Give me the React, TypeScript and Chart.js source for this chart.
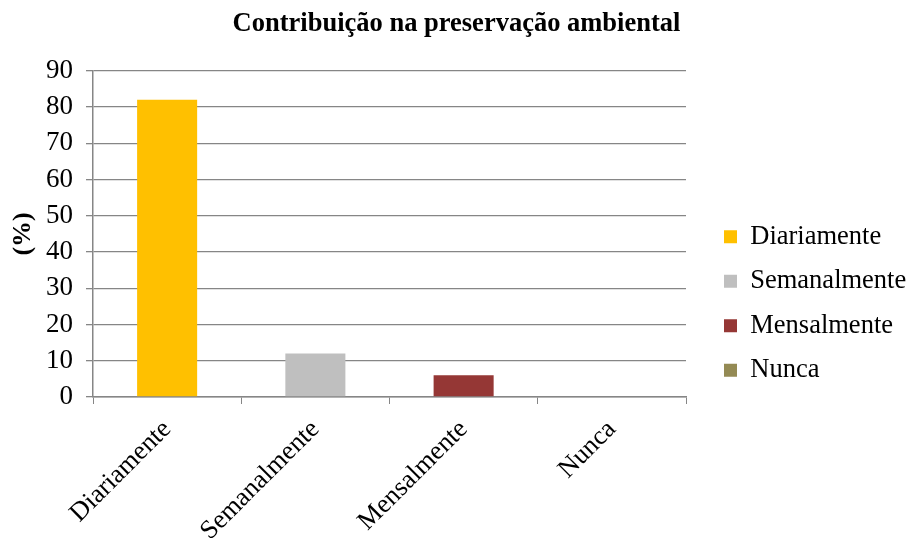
import React, { useEffect, useRef } from "react";
import { Chart, registerables } from "chart.js";

Chart.register(...registerables);

const categories = ["Diariamente", "Semanalmente", "Mensalmente", "Nunca"];
const values = [82, 12, 6, 0];
const colors = ["#FFC000", "#BFBFBF", "#953735", "#948A54"];
const yTicks = [0, 10, 20, 30, 40, 50, 60, 70, 80, 90];

const FONT = "'Liberation Serif', 'Times New Roman', serif";

export default function App() {
  const ref = useRef<HTMLCanvasElement | null>(null);

  useEffect(() => {
    document.body.style.margin = "0";
    const canvas = ref.current;
    if (!canvas) return;
    const chart = new Chart(canvas, {
      type: "bar",
      data: {
        labels: categories,
        datasets: [
          {
            data: values,
            backgroundColor: colors,
            borderWidth: 0,
            categoryPercentage: 1,
            barPercentage: 0.405,
          },
        ],
      },
      options: {
        animation: false,
        responsive: false,
        layout: { padding: { left: 4, right: 0, top: 0, bottom: 0 } },
        plugins: {
          title: {
            display: true,
            text: "Contribuição na preservação ambiental",
            color: "#000",
            font: { family: FONT, size: 26.5, weight: "bold" },
            padding: { top: 8, bottom: 31 },
          },
          legend: {
            position: "right",
            maxWidth: 203,
            title: {
              display: true,
              text: " ",
              font: { family: FONT, size: 10 },
              padding: { top: 57, bottom: 0 },
            },
            labels: {
              color: "#000",
              font: { family: FONT, size: 26.5 },
              boxWidth: 13,
              boxHeight: 13,
              padding: 18,
              generateLabels: () =>
                categories.map((c, i) => ({
                  text: c,
                  fillStyle: colors[i],
                  strokeStyle: colors[i],
                  lineWidth: 0,
                  hidden: false,
                  index: i,
                  fontColor: "#000",
                })),
            },
            onClick: () => {},
          },
          tooltip: { enabled: false },
        },
        scales: {
          x: {
            afterFit: (axis: any) => {
              axis.height = 141;
            },
            grid: {
              drawOnChartArea: false,
              drawTicks: true,
              tickLength: 7,
              color: "#868686",
              offset: true,
            },
            border: { color: "#868686", width: 1.5 },
            ticks: {
              color: "#000",
              font: { family: FONT, size: 26.5 },
              maxRotation: 45,
              minRotation: 45,
              padding: 10,
            },
          },
          y: {
            min: 0,
            max: 90,
            afterBuildTicks: (axis: any) => {
              axis.ticks = yTicks.map((v) => ({ value: v }));
            },
            afterFit: (axis: any) => {
              axis.width = 89;
            },
            grid: {
              color: "#868686",
              lineWidth: 1.3,
              tickLength: 7,
            },
            border: { color: "#868686", width: 1.5 },
            ticks: {
              color: "#000",
              font: { family: FONT, size: 27 },
              padding: 13,
            },
            title: {
              display: true,
              text: "(%)",
              color: "#000",
              font: { family: FONT, size: 26, weight: "bold" },
              padding: { top: 4, bottom: 0 },
            },
          },
          gap: {
            type: "linear",
            position: "right",
            display: true,
            grid: { display: false, drawTicks: false },
            border: { display: false },
            ticks: { display: false },
            afterFit: (axis: any) => {
              axis.width = 20;
            },
          },
        },
      },
    });
    return () => chart.destroy();
  }, []);

  return <canvas ref={ref} width={909} height={538} style={{ display: "block" }} />;
}
